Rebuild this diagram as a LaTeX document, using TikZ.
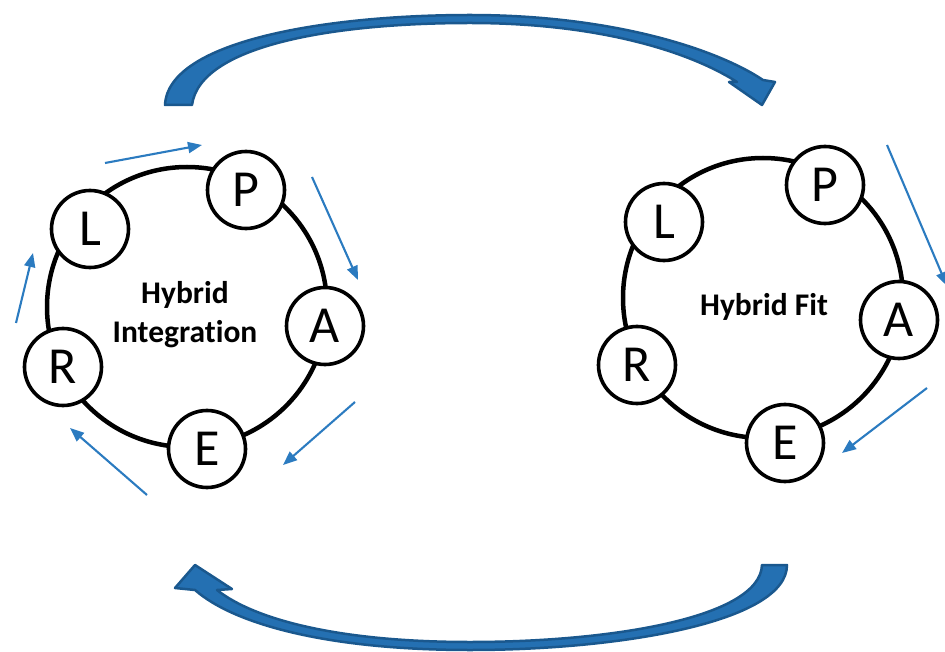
\documentclass[tikz,border=0pt]{standalone}
\usepackage{fontspec}
\setmainfont[Ligatures=NoCommon]{Carlito}
\usetikzlibrary{arrows.meta}
\definecolor{flowblue}{RGB}{43,123,192}
\definecolor{bigfill}{RGB}{36,112,178}
\definecolor{bigline}{RGB}{26,88,142}
\begin{document}
\begin{tikzpicture}[x=1pt,y=-1pt,
  stage/.style={circle,draw=black,line width=3.6pt,fill=white,minimum size=77pt,
    inner sep=0pt,font=\fontsize{52}{52}\selectfont},
  ring/.style={draw=black,line width=4.5pt},
  flow/.style={draw=flowblue,line width=2.1pt,-{Triangle[length=14pt,width=11pt]}},
  bigarrow/.style={fill=bigfill,draw=bigline,line width=2.5pt,line join=round},
  title/.style={font=\bfseries\fontsize{31.5}{39}\selectfont,align=center}]
\clip (0,0) rectangle (945,652);

% rings
\draw[ring] (187,307) circle[radius=140];
\draw[ring] (763,298) circle[radius=140];

% left cycle
\node[stage] (lP) at (246,190) {P};
\node[stage] (lL) at (90,229) {L};
\node[stage] (lA) at (325,326) {A};
\node[stage] (lR) at (63,367) {R};
\node[stage] (lE) at (207,449) {E};
\node[title] (hi) at (185,315) {Hybrid\\Integration};

% right cycle
\node[stage] (rP) at (825,185) {P};
\node[stage] (rL) at (664,222) {L};
\node[stage] (rA) at (899,320) {A};
\node[stage] (rR) at (637,365) {R};
\node[stage] (rE) at (785,443) {E};
\node[title] (hf) at (764,307) {Hybrid Fit};

% direction cues around the left cycle
\coordinate (a1s) at (105,163); \coordinate (a1e) at (202,145);
\coordinate (a2s) at (312,177); \coordinate (a2e) at (358,280);
\coordinate (a3s) at (355,402); \coordinate (a3e) at (283,465);
\coordinate (a4s) at (147,495); \coordinate (a4e) at (70,428);
\coordinate (a5s) at (16,323);  \coordinate (a5e) at (33,253);
\draw[flow] (a1s) -- (a1e);
\draw[flow] (a2s) -- (a2e);
\draw[flow] (a3s) -- (a3e);
\draw[flow] (a4s) -- (a4e);
\draw[flow] (a5s) -- (a5e);

% direction cues around the right cycle
\coordinate (b1s) at (887,145); \coordinate (b1e) at (947,286);
\coordinate (b2s) at (927,388); \coordinate (b2e) at (842,453);
\draw[flow] (b1s) -- (b1e);
\draw[flow] (b2s) -- (b2e);

% large curved arrows between the cycles
\path[bigarrow] (165,105) .. controls (168,40) and (330,15) .. (470,15)
  .. controls (610,15) and (715,48) .. (763,80) -- (775,82) -- (762,105)
  -- (729,82) -- (737,82) .. controls (690,52) and (600,23) .. (470,23)
  .. controls (335,23) and (200,45) .. (192,105) -- cycle;
\path[bigarrow] (787,565) .. controls (787,622) and (620,650) .. (470,650)
  .. controls (330,650) and (235,625) .. (195,590) -- (175,588) -- (195,565)
  -- (232,589) -- (217,590) .. controls (255,620) and (340,642) .. (470,642)
  .. controls (610,642) and (760,618) .. (762,565) -- cycle;
\end{tikzpicture}
\end{document}
